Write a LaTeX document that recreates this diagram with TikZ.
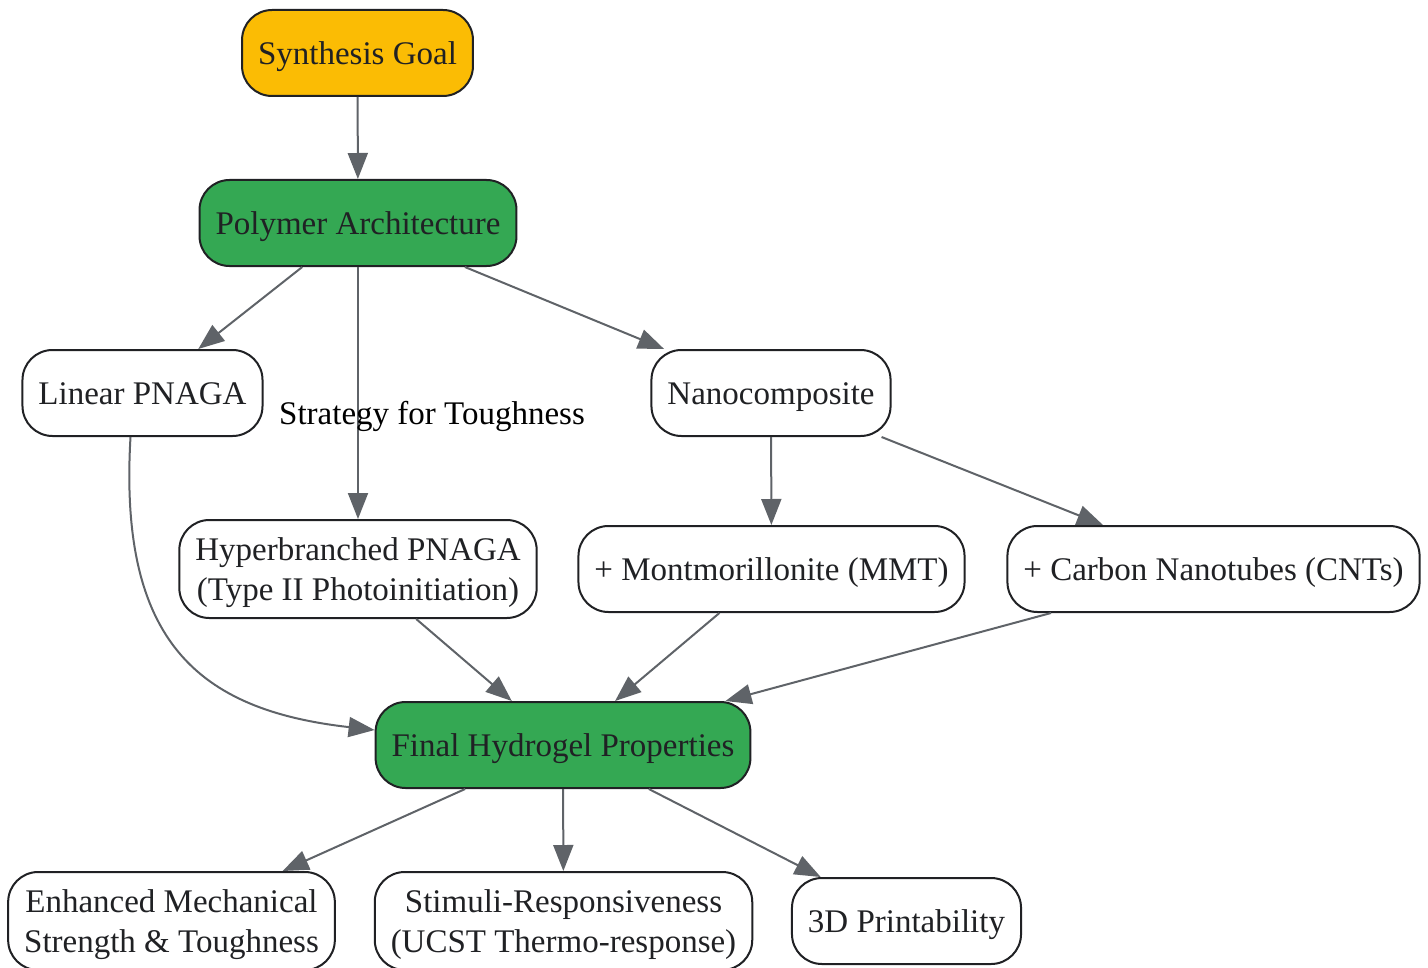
\documentclass[tikz,border=0pt]{standalone}
\usepackage{fontspec}
\setmainfont{Liberation Serif}
\usetikzlibrary{arrows.meta}
\definecolor{goalyellow}{HTML}{FBBC04}
\definecolor{archgreen}{HTML}{34A853}
\definecolor{edgegray}{HTML}{5F6368}
\definecolor{textdark}{HTML}{202124}
\newcommand{\linestrut}{\rule[-4pt]{0pt}{19.5pt}}
\begin{document}
\begin{tikzpicture}[x=0.5pt,y=-0.5pt]
	\tikzstyle{box} = [draw=textdark, line width=1pt, rounded corners=15pt, inner xsep=8pt,
			inner ysep=4.85pt, minimum height=43pt, align=center, text=textdark,
			font=\fontsize{16.5}{19.8}\selectfont,
			execute at begin node=\linestrut, execute at end node=\linestrut]
	\tikzstyle{goalbox} = [box, fill=goalyellow]
	\tikzstyle{greenbox} = [box, fill=archgreen]
	\tikzstyle{whitebox} = [box, fill=white]
	\tikzstyle{arrow} = [-{Triangle[length=13pt,width=10pt]}, draw=edgegray, line width=1pt]
	\tikzstyle{label} = [font=\fontsize{16.5}{19.8}\selectfont, text=black,
			execute at begin node=\linestrut]

	\useasboundingbox (0,0) rectangle (1428,968);

	\node [goalbox] (goal) at (357.5,53) {Synthesis Goal};
	\node [greenbox] (arch) at (358,223) {Polymer Architecture};
	\node [whitebox] (lin) at (142.5,393) {Linear PNAGA};
	\node [whitebox] (nano) at (771,393) {Nanocomposite};
	\node [whitebox] (hyper) at (358,569) {\linestrut Hyperbranched PNAGA\\(Type II Photoinitiation)\linestrut};
	\node [whitebox] (mmt) at (771.5,569) {+ Montmorillonite (MMT)};
	\node [whitebox] (cnt) at (1213.5,569) {+ Carbon Nanotubes (CNTs)};
	\node [greenbox] (final) at (563,745) {Final Hydrogel Properties};
	\node [whitebox] (mech) at (171.5,921) {\linestrut Enhanced Mechanical\\Strength \& Toughness\linestrut};
	\node [whitebox] (stim) at (563.5,921) {\linestrut Stimuli-Responsiveness\\(UCST Thermo-response)\linestrut};
	\node [whitebox] (print) at (906.5,921) {3D Printability};

	\draw [arrow] (goal) -- (arch);
	\draw [arrow] (arch) -- (lin);
	\draw [arrow] (arch) -- node [label, pos=0.58, xshift=37pt] {Strategy for Toughness} (hyper);
	\draw [arrow] (arch) -- (nano);
	\draw [arrow] (nano) -- (mmt);
	\draw [arrow] (nano) -- (cnt);
	\draw [arrow] ([xshift=-6pt]lin.south) .. controls +(-12,204) and +(-177,-20) .. ([yshift=7.5pt]final.west);
	\draw [arrow] (hyper) -- (final);
	\draw [arrow] (mmt) -- (final);
	\draw [arrow] (cnt) -- (final);
	\draw [arrow] (final) -- (mech);
	\draw [arrow] (final) -- (stim);
	\draw [arrow] (final) -- (print);
\end{tikzpicture}
\end{document}
